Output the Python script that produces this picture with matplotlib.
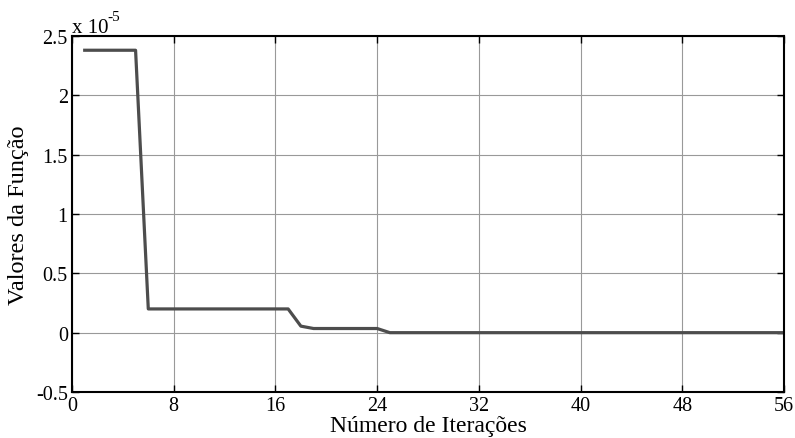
import matplotlib
matplotlib.use("Agg")
import matplotlib.pyplot as plt

iterations = list(range(1, 57))
values = ([2.38e-5] * 5 + [0.2e-5] * 12 + [0.055e-5] + [0.035e-5] * 6 + [0.0] * 32)

x_ticks = [0, 8, 16, 24, 32, 40, 48, 56]
y_ticks = [-0.5e-5, 0, 0.5e-5, 1e-5, 1.5e-5, 2e-5, 2.5e-5]
y_tick_labels = ["-0.5", "0", "0.5", "1", "1.5", "2", "2.5"]

plt.rcParams['font.family'] = ['Liberation Serif', 'DejaVu Serif']
fig = plt.figure(figsize=(7.95, 4.39), dpi=100)
ax = fig.add_axes([72/795, 1 - 393/439, (784-72)/795, (393-37)/439])
ax.plot(iterations, values, color='#4d4d4d', linewidth=2.3)
ax.set_xlim(0, 56)
ax.set_ylim(-0.5e-5, 2.5e-5)
ax.set_xticks(x_ticks)
ax.set_xticklabels([str(t) for t in x_ticks], fontsize=14.5)
ax.set_yticks(y_ticks)
ax.set_yticklabels(y_tick_labels, fontsize=14.5)
ax.grid(True, color='#999999', linewidth=0.8)
ax.tick_params(direction='in', length=5, width=1, top=True, right=True, pad=3)
for s in ax.spines.values():
    s.set_linewidth(1.5)
ax.set_xlabel('Número de Iterações', fontsize=17, labelpad=0)
ax.set_ylabel('Valores da Função', fontsize=17.5, labelpad=5)
fig.text(72/795, 1 - 33/439, 'x 10', fontsize=15, va='baseline')
fig.text(107/795, 1 - 21/439, '-5', fontsize=11, va='baseline')
fig.savefig('out.png', dpi=100)
